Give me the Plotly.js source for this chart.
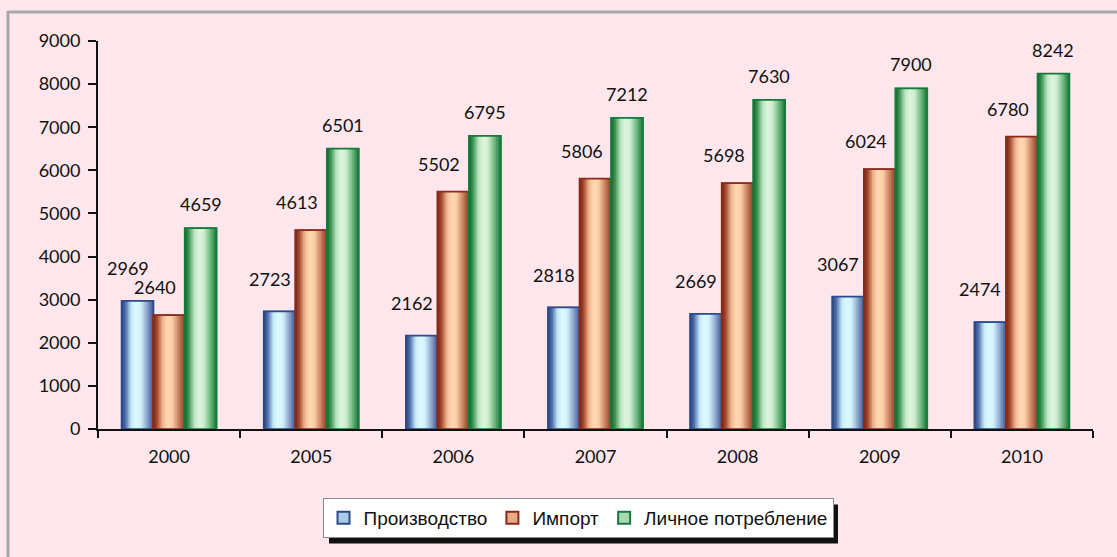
<!DOCTYPE html>
<html>
<head>
<meta charset="utf-8">
<script src="https://cdn.plot.ly/plotly-3.0.1.min.js"></script>
<style>html,body{margin:0;padding:0;background:#fde6ec;}#chart{width:1117px;height:557px;}</style>
</head>
<body>
<div id="chart"></div>
<script>
// ---- data ----
const years = ['2000', '2005', '2006', '2007', '2008', '2009', '2010'];
const seriesNames = ['Производство', 'Импорт', 'Личное потребление'];
const production = [2969, 2723, 2162, 2818, 2669, 3067, 2474];
const imports = [2640, 4613, 5502, 5806, 5698, 6024, 6780];
const consumption = [4659, 6501, 6795, 7212, 7630, 7900, 8242];
const yTicks = [0, 1000, 2000, 3000, 4000, 5000, 6000, 7000, 8000, 9000];

// ---- styles ----
const allValues = [production, imports, consumption];
const styles = [
  {line: '#2e4a8a', base: '#a9cbe6', lx: -10, ys: 20,
   stops: [[0, '#2a4580'], [0.12, '#4f6fab'], [0.3, '#c6eaf7'], [0.45, '#dcfaff'], [0.6, '#d2f2fb'], [0.8, '#8da6cd'], [1, '#3a5692']]},
  {line: '#8a2b1b', base: '#e9aa86', lx: -14, ys: 15,
   stops: [[0, '#7a2212'], [0.12, '#a34a30'], [0.3, '#f1b992'], [0.45, '#ffd9b2'], [0.6, '#fbcfa8'], [0.8, '#c98262'], [1, '#8c3b22']]},
  {line: '#157a3c', base: '#a7d9b0', lx: 0, ys: 11,
   stops: [[0, '#0d682d'], [0.12, '#3d9453'], [0.3, '#bde6c3'], [0.45, '#ddf5dd'], [0.6, '#d0edd1'], [0.8, '#72ba82'], [1, '#167636']]}
];

function hex2rgb(h) { return [parseInt(h.slice(1,3),16), parseInt(h.slice(3,5),16), parseInt(h.slice(5,7),16)]; }
function gradColor(stops, t) {
  for (let i = 1; i < stops.length; i++) {
    if (t <= stops[i][0]) {
      const a = stops[i-1], b = stops[i];
      const f = (t - a[0]) / (b[0] - a[0]);
      const ca = hex2rgb(a[1]), cb = hex2rgb(b[1]);
      const c = ca.map((v, k) => Math.round(v + (cb[k] - v) * f));
      return 'rgb(' + c.join(',') + ')';
    }
  }
  return stops[stops.length-1][1];
}

const W = 0.222;
const N = 20;
const traces = [];
const fontFam = 'Lato, "Liberation Sans", sans-serif';
const legendFam = '"Liberation Sans", Arial, sans-serif';

allValues.forEach((vals, s) => {
  const st = styles[s];
  const off = -1.5 * W + s * W;
  traces.push({
    type: 'bar', x: years, y: vals, name: seriesNames[s],
    width: W, offset: off,
    marker: {color: st.base, line: {color: st.line, width: 2}},
    hoverinfo: 'x+y+name', legendgroup: 'g' + s, showlegend: true
  });
  for (let k = 0; k < N; k++) {
    const t0 = k / N;
    traces.push({
      type: 'bar', x: years, y: vals, name: seriesNames[s],
      width: W * (1 - t0), offset: off + W * t0,
      marker: {color: gradColor(st.stops, (k + 0.5) / N), line: {width: 0}},
      hoverinfo: 'skip', legendgroup: 'g' + s, showlegend: false
    });
  }
  traces.push({
    type: 'bar', x: years, y: vals, name: seriesNames[s],
    width: W, offset: off,
    marker: {color: 'rgba(0,0,0,0)', line: {color: st.line, width: 1.5}},
    hoverinfo: 'skip', legendgroup: 'g' + s, showlegend: false
  });
});

const annotations = [];
allValues.forEach((vals, s) => {
  vals.forEach((v, i) => {
    annotations.push({
      x: i + (-1 + s) * W, y: v, xref: 'x', yref: 'y',
      text: String(v), showarrow: false, yanchor: 'bottom', xanchor: 'center',
      xshift: styles[s].lx, yshift: styles[s].ys,
      font: {family: fontFam, size: 18, color: '#111'}
    });
  });
});

// plot area: x 98..1093, y 41..429
const L = 98, R = 1093, T = 41, B = 429;
const px = x => (x - L) / (R - L);
const py = y => (B - y) / (B - T);

const shapes = [
  {type: 'line', xref: 'paper', yref: 'paper', x0: px(8), x1: px(8), y0: py(11), y1: py(560), line: {color: '#a9a9a9', width: 3}, layer: 'below'},
  {type: 'line', xref: 'paper', yref: 'paper', x0: px(7), x1: px(1120), y0: py(12), y1: py(12), line: {color: '#a9a9a9', width: 3}, layer: 'below'}
];

const layout = {
  width: 1117, height: 557,
  margin: {l: L, r: 1117 - R, t: T, b: 557 - B, pad: 0},
  paper_bgcolor: '#fde6ec', plot_bgcolor: '#fde6ec',
  barmode: 'overlay',
  showlegend: true,
  font: {family: fontFam, size: 18, color: '#111'},
  xaxis: {
    type: 'category', categoryorder: 'array', categoryarray: years,
    range: [-0.5, 6.5], showline: true, linecolor: '#111', linewidth: 2,
    ticks: 'outside', tickson: 'boundaries', ticklen: 7, tickwidth: 2, tickcolor: '#111',
    ticklabelstandoff: 10,
    showgrid: false, zeroline: false, fixedrange: true,
    tickfont: {family: fontFam, size: 18, color: '#111'}
  },
  yaxis: {
    range: [0, 9000], tickvals: yTicks, ticktext: yTicks.map(String),
    showline: true, linecolor: '#111', linewidth: 2,
    ticks: 'outside', ticklen: 8, tickwidth: 2, tickcolor: '#111',
    ticklabelstandoff: 4,
    showgrid: false, zeroline: false, fixedrange: true,
    tickfont: {family: fontFam, size: 18, color: '#111'}
  },
  legend: {
    orientation: 'h', x: px(578), xanchor: 'center', y: py(498), yanchor: 'top',
    bgcolor: '#ffffff', bordercolor: '#8c8c8c', borderwidth: 1,
    font: {family: legendFam, size: 19, color: '#111'},
    itemwidth: 30, traceorder: 'normal', itemclick: false, itemdoubleclick: false
  },
  annotations: annotations,
  shapes: shapes
};

Plotly.newPlot('chart', traces, layout, {displayModeBar: false, staticPlot: true}).then(gd => {
  // drop shadow behind the legend box
  const bg = gd.querySelector('.legend .bg');
  const root = gd.getBoundingClientRect();
  if (bg) {
    const r = bg.getBoundingClientRect();
    const x0 = r.left - root.left, y0 = r.top - root.top;
    const x1 = r.right - root.left, y1 = r.bottom - root.top;
    const shadow = {type: 'rect', xref: 'paper', yref: 'paper',
      x0: px(x0 + 6), x1: px(x1 + 5), y0: py(y0 + 6), y1: py(y1 + 6),
      fillcolor: '#111', line: {width: 0}, layer: 'below'};
    Plotly.relayout(gd, {shapes: shapes.concat([shadow])});
  }
});
</script>
</body>
</html>
